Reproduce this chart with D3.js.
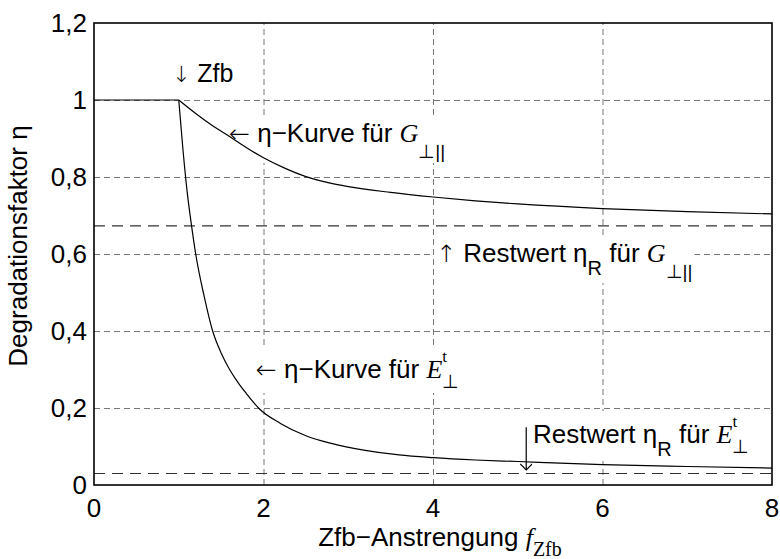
<!DOCTYPE html>
<html>
<head>
<meta charset="utf-8">
<script src="https://cdn.jsdelivr.net/npm/d3@7"></script>
<style>
  body { margin: 0; background: #fff; }
  text { font-family: "Liberation Sans", Arial, sans-serif; fill: #000; }
  .grid line { stroke: #777; stroke-width: 1; stroke-dasharray: 6,4; }
  .grid path { display: none; }
</style>
</head>
<body>
<script>
const width = 780, height = 559;

// curves
const plateauX = [0, 1];
const plateauEta = [1, 1];
const gX   = [1, 1.2, 1.4, 1.6, 1.8, 2, 2.25, 2.5, 2.75, 3, 3.5, 4, 4.5, 5, 6, 7, 8];
const gEta = [1, 0.965, 0.933, 0.905, 0.876, 0.85, 0.823, 0.801, 0.786, 0.775, 0.76, 0.748, 0.738, 0.73, 0.718, 0.71, 0.704];
const eX   = [1, 1.05, 1.1, 1.15, 1.2, 1.3, 1.4, 1.5, 1.6, 1.7, 1.8, 1.95, 2.2, 2.5, 2.8, 3.2, 3.6, 4, 4.5, 5, 5.5, 6, 7, 8];
const eEta = [1, 0.87, 0.76, 0.675, 0.6, 0.49, 0.40, 0.343, 0.30, 0.266, 0.237, 0.198, 0.16, 0.128, 0.108, 0.09, 0.078, 0.071, 0.065, 0.061, 0.057, 0.053, 0.048, 0.044];
const restG = 0.673;
const restE = 0.03;

const xTicks = [0, 2, 4, 6, 8];
const xTickLabels = ["0", "2", "4", "6", "8"];
const yTicks = [0, 0.2, 0.4, 0.6, 0.8, 1, 1.2];
const yTickLabels = ["0", "0,2", "0,4", "0,6", "0,8", "1", "1,2"];

const svg = d3.select("body").append("svg")
    .attr("width", width).attr("height", height);

const x = d3.scaleLinear().domain([0, 8]).range([94, 772]);
const y = d3.scaleLinear().domain([0, 1.2]).range([485, 23]);

// dashed grid
svg.append("g").attr("class", "grid")
    .attr("transform", `translate(0,${y(0)})`)
    .call(d3.axisBottom(x).tickValues(xTicks.slice(1, -1)).tickSize(y(1.2) - y(0)).tickFormat(""));
svg.append("g").attr("class", "grid")
    .attr("transform", `translate(${x(0)},0)`)
    .call(d3.axisLeft(y).tickValues(yTicks.slice(1, -1)).tickSize(x(0) - x(8)).tickFormat(""));

const serif = "'Liberation Serif', 'Times New Roman', serif";
const arrowFont = "'DejaVu Sans', sans-serif";

// text with white box behind it
function label(lx, ly, parts, size) {
  const g = svg.append("g");
  const bg = g.append("rect").attr("fill", "white");
  const t = g.append("text").attr("x", x(lx)).attr("y", y(ly)).attr("font-size", size || 26);
  parts.forEach(p => {
    const s = t.append("tspan").text(p.t);
    if (p.serif) s.attr("font-family", serif);
    if (p.arrow) s.attr("font-family", arrowFont).attr("font-weight", 200);
    if (p.italic) s.attr("font-style", "italic");
    if (p.size) s.attr("font-size", p.size);
    if (p.dx) s.attr("dx", p.dx);
    if (p.dy) s.attr("dy", p.dy);
  });
  const b = t.node().getBBox();
  bg.attr("x", b.x - 2).attr("y", b.y - 1).attr("width", b.width + 4).attr("height", b.height + 2);
  return g;
}

label(0.92, 1.047, [{t: "↓", arrow: true, size: 22}, {t: " Zfb"}], 25);
label(1.593, 0.891, [
  {t: "←", arrow: true, size: 25}, {t: " η−Kurve für "}, {t: "G", serif: true, italic: true},
  {t: "⊥||", size: 19, dy: 16}]);
label(4.035, 0.579, [
  {t: "↑", arrow: true, size: 24}, {t: " Restwert η"}, {t: "R", size: 20, dy: 13}, {t: " für ", dy: -13},
  {t: "G", serif: true, italic: true}, {t: "⊥||", size: 19, dy: 16}]);
label(1.91, 0.278, [
  {t: "←", arrow: true, size: 25}, {t: " η−Kurve für "}, {t: "E", serif: true, italic: true},
  {t: "t", serif: true, size: 17, dy: -16}, {t: "⊥", size: 19, dx: -5, dy: 26}]);
label(5.18, 0.109, [
  {t: "Restwert η"}, {t: "R", size: 20, dy: 13}, {t: " für ", dy: -13},
  {t: "E", serif: true, italic: true},
  {t: "t", serif: true, size: 17, dy: -16}, {t: "⊥", size: 19, dx: -5, dy: 26}]);

// residual value lines
svg.selectAll("line.rest")
  .data([restG, restE])
  .enter().append("line")
    .attr("class", "rest")
    .attr("x1", x(0)).attr("x2", x(8))
    .attr("y1", d => y(d)).attr("y2", d => y(d))
    .attr("stroke", "#333").attr("stroke-width", 1.1)
    .attr("stroke-dasharray", "11,7");

// curves
const line = d3.line().x(d => x(d[0])).y(d => y(d[1]));
const curve = d3.line().x(d => x(d[0])).y(d => y(d[1])).curve(d3.curveMonotoneX);

svg.append("path").datum(d3.zip(plateauX, plateauEta))
    .attr("d", line).attr("fill", "none").attr("stroke", "#000").attr("stroke-width", 1.2);
svg.append("path").datum(d3.zip(gX, gEta))
    .attr("d", curve).attr("fill", "none").attr("stroke", "#000").attr("stroke-width", 1.2);
svg.append("path").datum(d3.zip(eX, eEta))
    .attr("d", curve).attr("fill", "none").attr("stroke", "#000").attr("stroke-width", 1.2);

// arrow to E residual line
svg.append("defs").append("marker")
    .attr("id", "head").attr("viewBox", "0 0 12 8")
    .attr("refX", 6).attr("refY", 7).attr("markerWidth", 12).attr("markerHeight", 8)
    .attr("markerUnits", "userSpaceOnUse").attr("orient", "0")
  .append("path").attr("d", "M0,1 L6,7 L12,1").attr("fill", "none").attr("stroke", "#000").attr("stroke-width", 1.2);
svg.append("line")
    .attr("x1", x(5.1)).attr("x2", x(5.1))
    .attr("y1", y(0.15)).attr("y2", y(0.039))
    .attr("stroke", "#000").attr("stroke-width", 1.2)
    .attr("marker-end", "url(#head)");

// frame
svg.append("rect")
    .attr("x", x(0)).attr("y", y(1.2))
    .attr("width", x(8) - x(0)).attr("height", y(0) - y(1.2))
    .attr("fill", "none").attr("stroke", "#000").attr("stroke-width", 1.6);

// tick labels
svg.append("g").selectAll("text")
  .data(yTicks)
  .enter().append("text")
    .attr("x", 87).attr("y", d => y(d)).attr("dy", "0.36em")
    .attr("text-anchor", "end").attr("font-size", 26)
    .text((d, i) => yTickLabels[i]);
svg.append("g").selectAll("text")
  .data(xTicks)
  .enter().append("text")
    .attr("x", d => x(d)).attr("y", 517)
    .attr("text-anchor", "middle").attr("font-size", 26)
    .text((d, i) => xTickLabels[i]);

// axis titles
svg.append("text")
    .attr("transform", "translate(27,246) rotate(-90)")
    .attr("text-anchor", "middle").attr("font-size", 26)
    .text("Degradationsfaktor η");

const xt = svg.append("text").attr("x", 440).attr("y", 546)
    .attr("text-anchor", "middle").attr("font-size", 26);
xt.append("tspan").text("Zfb−Anstrengung ");
xt.append("tspan").text("f").attr("font-family", serif).attr("font-style", "italic");
xt.append("tspan").text("Zfb").attr("font-family", serif).attr("font-size", 20).attr("dy", 10);
</script>
</body>
</html>
